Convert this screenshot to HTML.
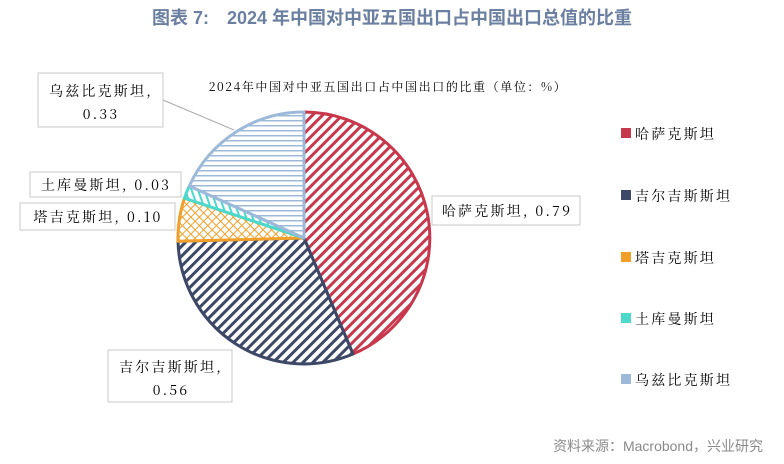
<!DOCTYPE html>
<html><head><meta charset="utf-8"><style>
body{margin:0;width:784px;height:459px;background:#fff;overflow:hidden;font-family:"Liberation Sans","Noto Sans CJK SC",sans-serif;}
</style></head><body>
<svg width="784" height="459" xmlns="http://www.w3.org/2000/svg">
<defs>
<pattern id="pr" width="7" height="7" patternUnits="userSpaceOnUse" patternTransform="rotate(45)"><rect width="7" height="7" fill="#fff"/><rect width="3" height="7" fill="#c8384d"/></pattern>
<pattern id="pn" width="7" height="7" patternUnits="userSpaceOnUse" patternTransform="rotate(45)"><rect width="7" height="7" fill="#fff"/><rect width="3" height="7" fill="#3d4866"/></pattern>
<pattern id="po" width="6" height="6" patternUnits="userSpaceOnUse" patternTransform="rotate(45)"><rect width="6" height="6" fill="#fff"/><rect width="1" height="6" fill="#f0a02a"/><rect width="6" height="1" fill="#f0a02a"/></pattern>
<pattern id="pc" width="6" height="6" patternUnits="userSpaceOnUse" patternTransform="rotate(-20)"><rect width="6" height="6" fill="#fff"/><rect width="2" height="6" fill="#4dd8cc"/></pattern>
<pattern id="pb" width="6" height="5" patternUnits="userSpaceOnUse"><rect width="6" height="5" fill="#fff"/><rect width="6" height="1.5" fill="#9db9d9"/></pattern>
</defs>
<text x="392" y="24" text-anchor="middle" font-size="18" font-weight="bold" fill="#6b7fa0">图表 7:　2024 年中国对中亚五国出口占中国出口总值的比重</text>
<text x="388" y="91" text-anchor="middle" font-size="12" letter-spacing="1.6" fill="#000" font-family="'Noto Serif CJK SC',serif">2024年中国对中亚五国出口占中国出口的比重（单位：%）</text>
<g stroke-width="3" stroke-linejoin="round">
<path d="M304 238 L304 112 A126 126 0 0 1 353 354 Z" fill="url(#pr)" stroke="#c8384d"/>
<path d="M304 238 L353 354 A126 126 0 0 1 178 241.3 Z" fill="url(#pn)" stroke="#3d4866"/>
<path d="M304 238 L178 241.3 A126 126 0 0 1 184.4 198.2 Z" fill="url(#po)" stroke="#f0a02a"/>
<path d="M304 238 L184.4 198.2 A126 126 0 0 1 189.3 186 Z" fill="url(#pc)" stroke="#4dd8cc"/>
<path d="M304 238 L189.3 186 A126 126 0 0 1 304 112 Z" fill="url(#pb)" stroke="#9db9d9"/>
</g>
<line x1="163" y1="100" x2="234" y2="130" stroke="#aaa"/>
<g fill="#fff" stroke="#c8c8c8">
<rect x="38" y="73" width="125" height="54"/>
<rect x="432" y="196" width="148" height="29"/>
<rect x="108" y="350" width="124" height="52"/>
<rect x="20" y="203" width="155" height="27"/>
<rect x="30" y="172" width="151" height="25"/>
</g>
<g font-size="14" fill="#000" font-family="'Noto Serif CJK SC',serif" text-anchor="middle" letter-spacing="2.2">
<text x="101" y="96">乌兹比克斯坦,</text><text x="101" y="119">0.33</text>
<text x="507" y="216">哈萨克斯坦, 0.79</text>
<text x="171" y="372">吉尔吉斯斯坦,</text><text x="171" y="395">0.56</text>
<text x="98" y="222">塔吉克斯坦, 0.10</text>
<text x="106" y="190">土库曼斯坦, 0.03</text>
</g>
<g font-size="14" fill="#000" font-family="'Noto Serif CJK SC',serif" letter-spacing="2.2">
<rect x="621" y="128" width="10" height="10" fill="#c8384d"/><text x="635" y="139">哈萨克斯坦</text>
<rect x="621" y="190" width="10" height="10" fill="#3d4866"/><text x="635" y="201">吉尔吉斯斯坦</text>
<rect x="621" y="252" width="10" height="10" fill="#f0a02a"/><text x="635" y="263">塔吉克斯坦</text>
<rect x="621" y="313" width="10" height="10" fill="#4dd8cc"/><text x="635" y="324">土库曼斯坦</text>
<rect x="621" y="374" width="10" height="10" fill="#9db9d9"/><text x="635" y="385">乌兹比克斯坦</text>
</g>
<text x="763" y="451" text-anchor="end" font-size="14" fill="#8a8a8a">资料来源：Macrobond，兴业研究</text>
</svg>
</body></html>
